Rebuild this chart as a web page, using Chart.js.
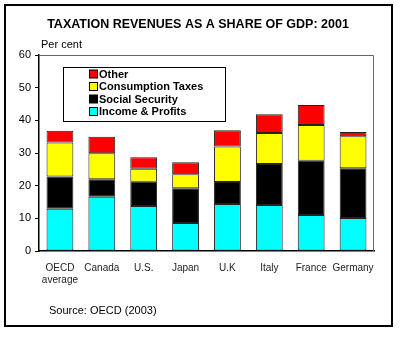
<!DOCTYPE html>
<html lang="en">

<head>
  <meta charset="UTF-8">
  <title>Taxation Revenues as a Share of GDP: 2001</title>
  <style>
    body {
      margin: 0;
      background-color: #ffffff;
    }

    #chart-box {
      width: 404px;
      height: 337px;
    }
  </style>
</head>

<body>
  <div id="chart-box">
    <canvas id="tax-chart" width="404" height="337"></canvas>
  </div>

  <script src="https://cdn.jsdelivr.net/npm/chart.js"></script>

  <script>
    const countries = [['OECD', 'average'], 'Canada', 'U.S.', 'Japan', 'U.K', 'Italy', 'France', 'Germany'];
    const incomeProfits = [12.9, 16.6, 13.8, 8.6, 14.4, 14.1, 11.0, 10.1];
    const socialSecurity = [9.9, 5.4, 7.4, 10.6, 6.7, 12.5, 16.6, 15.2];
    const consumptionTaxes = [10.4, 7.9, 4.0, 4.3, 10.9, 9.5, 11.0, 9.8];
    const otherTaxes = [3.6, 5.1, 3.5, 3.7, 5.0, 5.8, 6.1, 1.3];
    const yTicks = [0, 10, 20, 30, 40, 50, 60];

    // frame, title, unit label, source note and the boxed legend
    const decorations = {
      id: 'decorations',
      afterDraw(chart) {
        const ctx = chart.ctx;
        const area = chart.chartArea;
        ctx.save();

        // outer frame
        ctx.strokeStyle = '#000';
        ctx.lineWidth = 2;
        ctx.strokeRect(5, 5, 387, 321);

        // top and right edge of the plot
        ctx.strokeStyle = '#666';
        ctx.lineWidth = 1;
        ctx.beginPath();
        ctx.moveTo(area.left, area.top + 0.5);
        ctx.lineTo(area.right - 0.5, area.top + 0.5);
        ctx.lineTo(area.right - 0.5, area.bottom);
        ctx.stroke();

        ctx.fillStyle = '#000';
        ctx.textBaseline = 'middle';
        ctx.textAlign = 'center';
        ctx.font = 'bold 12.5px Arial, "Liberation Sans", sans-serif';
        ctx.fillText('TAXATION REVENUES AS A SHARE OF GDP: 2001', 198, 25);

        ctx.textAlign = 'left';
        ctx.font = '11px Arial, "Liberation Sans", sans-serif';
        ctx.fillText('Per cent', 41, 45);
        ctx.fillText('Source: OECD (2003)', 49, 311);

        // legend box, last series first
        ctx.fillStyle = '#fff';
        ctx.fillRect(63.5, 67.5, 162, 54);
        ctx.strokeStyle = '#000';
        ctx.lineWidth = 1;
        ctx.strokeRect(63.5, 67.5, 162, 54);

        ctx.font = 'bold 11px Arial, "Liberation Sans", sans-serif';
        const sets = chart.data.datasets.slice().reverse();
        sets.forEach((ds, i) => {
          const y = 74 + i * 12.5;
          ctx.fillStyle = ds.backgroundColor;
          ctx.fillRect(89.5, y - 4, 8, 8);
          ctx.strokeStyle = '#000';
          ctx.strokeRect(89.5, y - 4, 8, 8);
          ctx.fillStyle = '#000';
          ctx.fillText(ds.label, 99, y + 0.5);
        });

        ctx.restore();
      }
    };

    const barStyle = {
      borderColor: '#222',
      borderWidth: 1,
      borderSkipped: false,
      barPercentage: 0.64,
      categoryPercentage: 1.0
    };

    new Chart(document.getElementById('tax-chart'), {
      type: 'bar',
      data: {
        labels: countries,
        datasets: [
          { label: 'Income & Profits', data: incomeProfits, backgroundColor: '#00ffff', ...barStyle },
          { label: 'Social Security', data: socialSecurity, backgroundColor: '#000000', ...barStyle },
          { label: 'Consumption Taxes', data: consumptionTaxes, backgroundColor: '#ffff00', ...barStyle },
          { label: 'Other', data: otherTaxes, backgroundColor: '#ff0000', ...barStyle }
        ]
      },
      options: {
        responsive: false,
        devicePixelRatio: 1,
        animation: false,
        layout: {
          padding: { left: 0, right: 30, top: 55, bottom: 0 }
        },
        plugins: {
          legend: { display: false },
          title: { display: false },
          tooltip: { enabled: false }
        },
        scales: {
          x: {
            stacked: true,
            afterFit(scale) { scale.height = 86; },
            grid: { display: false },
            border: { color: '#000', width: 1.5 },
            ticks: {
              color: '#222',
              padding: 3,
              maxRotation: 0,
              autoSkip: false,
              font: { family: 'Arial, "Liberation Sans", sans-serif', size: 10 }
            }
          },
          y: {
            stacked: true,
            min: 0,
            max: 60,
            afterFit(scale) { scale.width = 39; },
            afterBuildTicks(scale) { scale.ticks = yTicks.map(v => ({ value: v })); },
            grid: {
              drawOnChartArea: false,
              drawTicks: true,
              tickLength: 4,
              color: '#000'
            },
            border: { color: '#000', width: 1.5 },
            ticks: {
              color: '#000',
              padding: 4,
              font: { family: 'Arial, "Liberation Sans", sans-serif', size: 11 }
            }
          }
        }
      },
      plugins: [decorations]
    });
  </script>
</body>

</html>
